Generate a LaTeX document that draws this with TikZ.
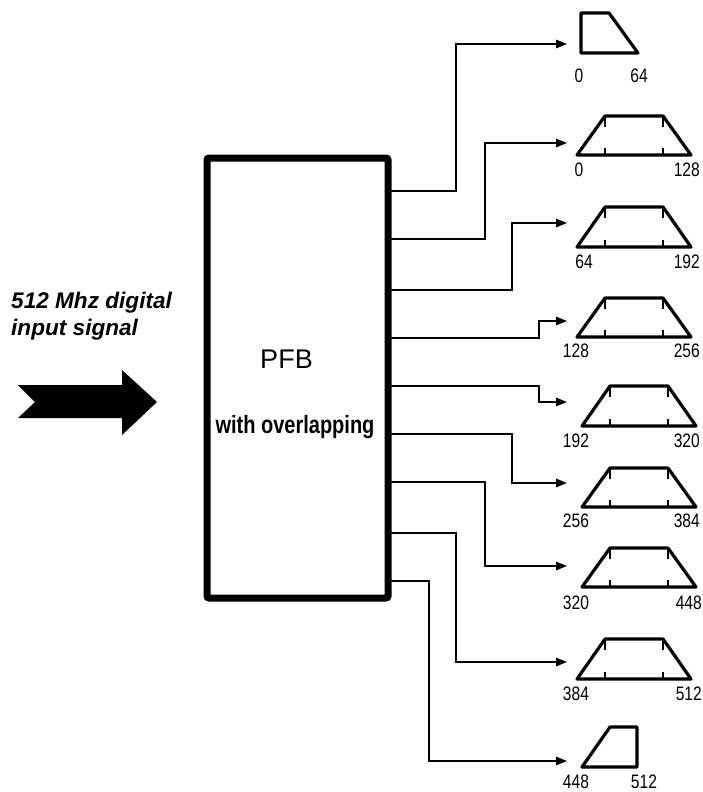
\documentclass[tikz,border=0pt]{standalone}
\usepackage{fontspec}
\setmainfont{Liberation Sans}
\usetikzlibrary{arrows.meta}
\tikzset{
  conn/.style={line width=1.6pt, -{Triangle[length=11pt,width=8.5pt]}},
  flt/.style={line width=3.2pt, line join=round},
  tickmark/.style={line width=1.4pt},
  num/.style={inner sep=0pt, font=\fontsize{19.5}{19.5}\selectfont},
}
\newcommand\filtertrap[3]{%
  \draw[flt] (#1,#3) -- (#1+28,#2) -- (#1+86,#2) -- (#1+114,#3) -- cycle;
  \draw[tickmark] (#1+28,#2) -- (#1+28,#2+11) (#1+86,#2) -- (#1+86,#2+11)
                  (#1+28,#3) -- (#1+28,#3-7) (#1+86,#3) -- (#1+86,#3-7);}
\newcommand\numlab[1]{\scalebox{0.8}[1]{#1}}
\begin{document}
\begin{tikzpicture}[x=1pt,y=-1pt]
\useasboundingbox (0,0) rectangle (702,792);

% input arrow
\fill (18,385) -- (122,385) -- (122,370) -- (157,402) -- (122,435) -- (122,418) -- (18,418) -- (35,402) -- cycle;
\node[anchor=base west, inner sep=0pt, align=left,
      font=\fontsize{22.6}{27}\selectfont\bfseries\itshape] (intxt) at (11,335)
  {512 Mhz digital\\input signal};

% PFB box
\node[draw, line width=7pt, rounded corners=2pt, minimum width=181pt, minimum height=440pt, inner sep=0pt] (pfb) at (297.5,378) {};
\node[inner sep=0pt, anchor=base, font=\fontsize{27}{27}\selectfont] (pfbt) at (286.5,368) {PFB};
\node[inner sep=0pt, anchor=base, font=\fontsize{25}{25}\selectfont\bfseries] (pfbs) at (295,433) {\scalebox{0.8}[1]{with overlapping}};

% output points on the box
\foreach \i/\y in {1/191,2/239,3/290,4/338,5/386,6/434,7/482,8/533,9/581}
  \coordinate (o\i) at (388,\y);
% filter inputs
\foreach \i/\y in {1/44,2/143,3/223,4/321,5/402,6/483,7/566,8/662,9/761}
  \coordinate (f\i) at (567,\y);
% bend columns
\foreach \i/\x in {1/456,2/485,3/512,4/539,5/539,6/512,7/485,8/456,9/429}
  \coordinate (b\i) at (\x,0);

\foreach \i in {1,...,9}
  \draw[conn] (o\i) -| (b\i |- f\i) -- (f\i);

% filters
\draw[flt] (581,53) -- (581,13) -- (609,13) -- (638,53) -- cycle;
\filtertrap{577}{116}{155}
\filtertrap{577}{207}{247}
\filtertrap{577}{298}{337}
\filtertrap{582}{386}{426}
\filtertrap{582}{468}{507}
\filtertrap{582}{548}{587}
\filtertrap{577}{639}{679}
\draw[flt] (582,767) -- (610,727) -- (637,727) -- (637,767) -- cycle;

% labels
\node[num, anchor=base] (l1a) at (579,82) {\numlab{0}};
\node[num, anchor=base] (l1b) at (639,82) {\numlab{64}};
\node[num, anchor=base] (l2a) at (579,176) {\numlab{0}};
\node[num, anchor=base east] (l2b) at (700,176) {\numlab{128}};
\node[num, anchor=base] (l3a) at (584,268) {\numlab{64}};
\node[num, anchor=base east] (l3b) at (700,268) {\numlab{192}};
\node[num, anchor=base] (l4a) at (576,357) {\numlab{128}};
\node[num, anchor=base east] (l4b) at (700,357) {\numlab{256}};
\node[num, anchor=base] (l5a) at (576,447) {\numlab{192}};
\node[num, anchor=base east] (l5b) at (700,447) {\numlab{320}};
\node[num, anchor=base] (l6a) at (576,527) {\numlab{256}};
\node[num, anchor=base east] (l6b) at (700,527) {\numlab{384}};
\node[num, anchor=base] (l7a) at (576,609) {\numlab{320}};
\node[num, anchor=base east] (l7b) at (702,609) {\numlab{448}};
\node[num, anchor=base] (l8a) at (576,700) {\numlab{384}};
\node[num, anchor=base east] (l8b) at (702,700) {\numlab{512}};
\node[num, anchor=base] (l9a) at (576,788) {\numlab{448}};
\node[num, anchor=base] (l9b) at (644,788) {\numlab{512}};
\end{tikzpicture}
\end{document}
